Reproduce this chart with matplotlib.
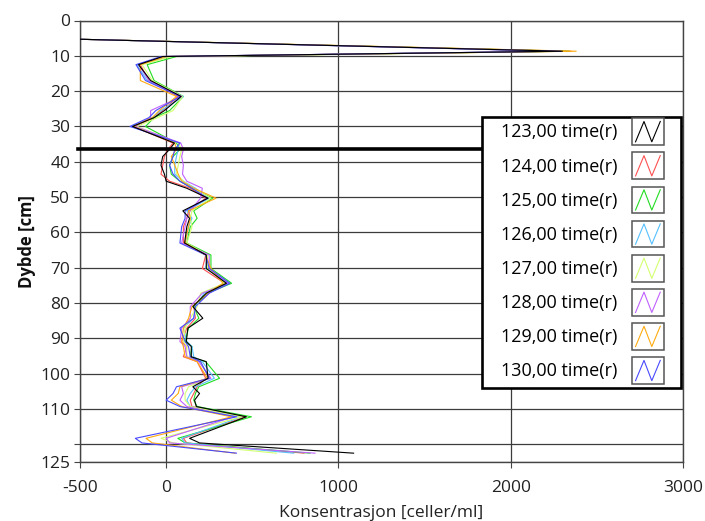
"""
Depth profile of cell concentration, one line per sampling time (123-130 h).
Saves out.png only.
"""

import numpy as np
import matplotlib
matplotlib.use("Agg")
import matplotlib.pyplot as plt
from matplotlib.legend_handler import HandlerBase
from matplotlib.lines import Line2D
from matplotlib.patches import Rectangle

plt.rcParams["font.family"] = ["Open Sans", "DejaVu Sans"]
plt.rcParams["axes.unicode_minus"] = False

# ── Data ─────────────────────────────────────────────────────────────────────
depth_cm = [5.3, 8.7, 10.2, 12.5, 17.0, 21.5, 25.5, 27.5, 30.0, 34.7,
            36.5, 38.5, 41.0, 43.5, 45.5, 47.5, 50.3, 53.9, 56.0, 58.4,
            63.0, 66.4, 70.2, 74.4, 77.2, 81.0, 84.3, 87.1, 90.9, 92.3,
            95.2, 96.6, 101.3, 103.7, 105.6, 107.5, 109.3, 112.2, 118.3, 119.6,
            122.5]

t123 = [-510, 2300, -20, -160, -90, 87, -10, -70, -195, 48,
        20, -20, -30, -10, 0, 120, 243, 97, 136, 120,
        107, 233, 233, 350, 233, 155, 213, 126, 117, 146,
        146, 233, 243, 155, 194, 165, 175, 466, 136, 194,
        1088]
t124 = [-510, 2350, 0, -150, -100, 70, -20, -70, -190, 40,
        10, -10, -20, -30, 20, 140, 230, 130, 120, 100,
        100, 230, 210, 340, 250, 160, 170, 120, 90, 120,
        100, 180, 230, 180, 160, 140, 150, 460, 100, 120,
        800]
t125 = [-510, 2340, 60, -110, -70, 100, 20, -70, -120, 60,
        80, 40, 20, 30, 80, 150, 270, 160, 180, 140,
        120, 260, 260, 380, 240, 160, 190, 130, 110, 150,
        140, 230, 310, 190, 170, 160, 180, 495, 68, 110,
        835]
t126 = [-510, 2280, 10, -170, -110, 100, -30, -80, -200, 75,
        70, 60, 50, 50, 100, 170, 250, 120, 150, 130,
        110, 240, 230, 360, 220, 170, 160, 100, 120, 150,
        160, 210, 280, 170, 140, 120, 140, 440, 90, 110,
        740]
t127 = [-510, 2300, 30, -140, -80, 95, 40, -50, -170, 70,
        90, 80, 70, 60, 100, 160, 260, 150, 140, 150,
        120, 240, 240, 340, 200, 180, 140, 110, 100, 120,
        120, 200, 250, 130, 110, 110, 140, 440, -30, 40,
        640]
t128 = [-510, 2260, -10, -160, -100, 90, -90, -90, -180, 85,
        100, 90, 100, 95, 120, 210, 200, 140, 120, 110,
        90, 250, 250, 360, 210, 140, 140, 90, 80, 110,
        120, 190, 260, 90, 100, 80, 120, 390, 0, 20,
        864]
t129 = [-510, 2380, 0, -150, -150, 60, -40, -80, -190, 50,
        60, 30, 50, 70, 90, 160, 290, 130, 140, 130,
        110, 230, 260, 330, 240, 150, 130, 100, 90, 100,
        110, 180, 240, 80, 70, 30, 90, 380, -117, -80,
        400]
t130 = [-510, 2290, -30, -175, -120, 80, -60, -100, -210, 80,
        50, 40, 20, 40, 80, 150, 240, 110, 110, 90,
        80, 230, 250, 370, 250, 170, 160, 80, 110, 130,
        140, 200, 250, 60, 40, 0, 80, 410, -179, -140,
        408]

series = [t123, t124, t125, t126, t127, t128, t129, t130]
labels = ["123,00 time(r)", "124,00 time(r)", "125,00 time(r)", "126,00 time(r)",
          "127,00 time(r)", "128,00 time(r)", "129,00 time(r)", "130,00 time(r)"]
colors = ["#000000", "#ff5050", "#22dd22", "#55c0ff",
          "#d4ff70", "#c060ff", "#ffaa10", "#4a4aff"]

boundary_cm = 36.3          # the thick horizontal marker
x_ticks = [-500, 0, 1000, 2000, 3000]
y_ticks = [0, 10, 20, 30, 40, 50, 60, 70, 80, 90, 100, 110, 120, 125]
y_ticklabels = ["0", "10", "20", "30", "40", "50", "60", "70", "80", "90",
                "100", "110", "", "125"]


class ZigzagHandler(HandlerBase):
    """Legend swatch: a small grey box with a /\\/ line in the series colour."""

    def create_artists(self, legend, orig_handle, xdescent, ydescent,
                       width, height, fontsize, trans):
        x0, y0 = -xdescent, -ydescent
        box = Rectangle((x0, y0), width, height, facecolor="white",
                        edgecolor="#555555", lw=1.1, transform=trans)
        xs = x0 + width * np.array([0.12, 0.38, 0.62, 0.88])
        ys = y0 + height * np.array([0.12, 0.88, 0.12, 0.88])
        zig = Line2D(xs, ys, color=orig_handle.get_color(), lw=0.8,
                     transform=trans)
        return [box, zig]


W, H = 705, 521
fig = plt.figure(figsize=(W / 100, H / 100), dpi=100)
ax = fig.add_axes([80 / W, 59 / H, 603 / W, 441.5 / H])

handles = []
for vals, label, c in zip(series, labels, colors):
    z = 3 if c == "#000000" else 2
    (ln,) = ax.plot(vals, depth_cm, color=c, lw=0.8, label=label, zorder=z)
    handles.append(ln)

# thick marker line; it runs in under the legend box
ax.axhline(boundary_cm, xmin=-0.004, xmax=0.9, color="black", lw=2.6,
           zorder=3.5, clip_on=False)

ax.set_xlim(-500, 3000)
ax.set_ylim(125, 0)
ax.set_xticks(x_ticks)
ax.set_yticks(y_ticks)
ax.set_yticklabels(y_ticklabels)
ax.tick_params(labelsize=12.5, labelcolor="#222222", color="#444444",
               length=4, pad=3)
ax.tick_params(axis="x", pad=9)
ax.grid(True, color="#3c3c3c", lw=0.9, zorder=1)
ax.set_axisbelow(True)
for s in ax.spines.values():
    s.set_color("#444444")
    s.set_linewidth(1.0)

ax.set_xlabel("Konsentrasjon [celler/ml]", fontsize=12.5, color="#222222",
              labelpad=6.5)
ax.set_ylabel("Dybde [cm]", fontsize=12, fontweight="bold", color="#111111",
              labelpad=3)

# legend frame drawn separately so the padding can differ per side
frame = Rectangle((481.7 / W, 1 - 388.3 / H), 199.3 / W, 271.6 / H,
                  transform=fig.transFigure, facecolor="white",
                  edgecolor="black", lw=1.9, zorder=4, clip_on=False)
ax.add_patch(frame)
ax.legend(handles, labels, handler_map={Line2D: ZigzagHandler()},
          loc="upper left", bbox_to_anchor=(500.7 / W, 1 - 118.3 / H),
          bbox_transform=fig.transFigure, frameon=False, markerfirst=False,
          fontsize=13, borderpad=0, borderaxespad=0, handlelength=1.8,
          handleheight=1.9, handletextpad=0.8, labelspacing=0.41)

fig.savefig("out.png", dpi=100)
plt.close(fig)
